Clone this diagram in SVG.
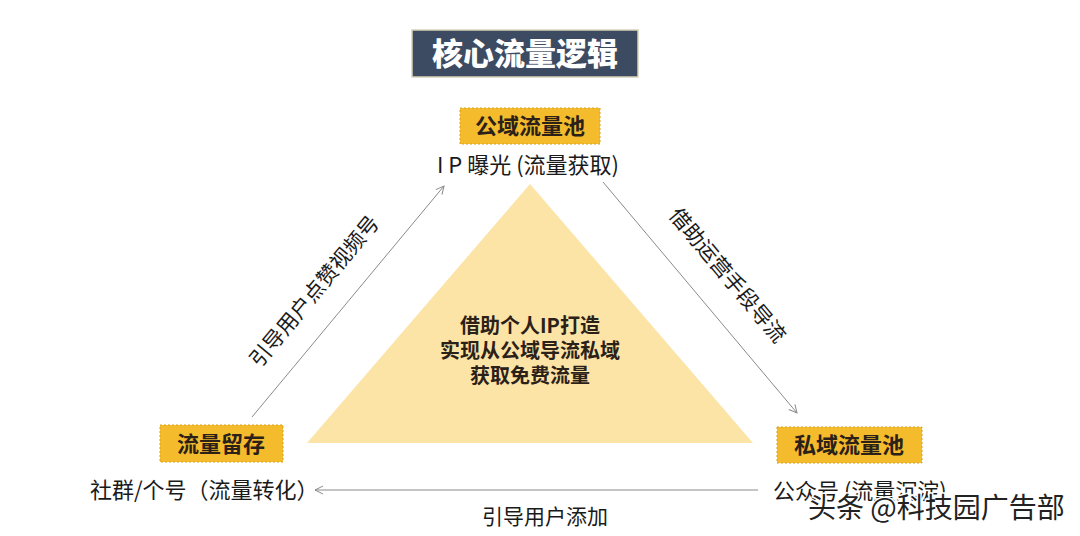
<svg xmlns="http://www.w3.org/2000/svg" width="1080" height="536" viewBox="0 0 1080 536">
<style>
.lbl{font-family:"Noto Sans CJK SC","Noto Sans",sans-serif;font-weight:700;font-size:22px;fill:#2b2118;text-anchor:middle}
.ctr{font-family:"Noto Sans CJK SC","Noto Sans",sans-serif;font-weight:700;font-size:20px;fill:#2b2118;text-anchor:middle}
.box{fill:#f4bb2d;stroke:#d9a01a;stroke-width:1;stroke-dasharray:2 2}
.txt{font-family:"Noto Sans CJK SC","Liberation Sans",sans-serif;font-size:22px;fill:#1a1a1a}
.conn{stroke:#8a8a8a;stroke-width:1;fill:none;marker-end:url(#ah)}
.clbl{font-family:"Noto Sans CJK SC","Liberation Sans",sans-serif;font-size:21px;fill:#1a1a1a;text-anchor:middle}
</style>
<defs>
<marker id="ah" viewBox="0 0 10 10" refX="9" refY="5" markerWidth="10" markerHeight="10" markerUnits="userSpaceOnUse" orient="auto">
<path d="M1,1 L9,5 L1,9" fill="none" stroke="#8a8a8a" stroke-width="1"/>
</marker>
</defs>
<rect width="1080" height="536" fill="#ffffff"/>
<g id="title">
<rect x="412" y="30" width="226" height="47" fill="#3c4a62" stroke="#d8d2b8" stroke-width="1.5"/>
<text x="525" y="65" font-family="Noto Sans CJK SC,sans-serif" font-weight="900" font-size="31" fill="#ffffff" text-anchor="middle">核心流量逻辑</text>
</g>
<g id="triangle">
<polygon points="530,184 307,443 753,443" fill="#fbe4a6"/>
<text class="ctr" x="530" y="333">借助个人IP打造</text>
<text class="ctr" x="530" y="358">实现从公域导流私域</text>
<text class="ctr" x="530" y="383">获取免费流量</text>
</g>
<g id="public-pool">
<rect class="box" x="460" y="108" width="140" height="36"/>
<text class="lbl" x="530" y="134">公域流量池</text>
<text class="txt" x="528" y="173" text-anchor="middle" font-size="23">I P 曝光 (流量获取)</text>
</g>
<g id="retention">
<rect class="box" x="160" y="425" width="123" height="37"/>
<text class="lbl" x="221" y="452">流量留存</text>
<text class="txt" x="90" y="498">社群/个号（流量转化）</text>
</g>
<g id="private-pool">
<rect class="box" x="777" y="427" width="145" height="36"/>
<text class="lbl" x="849" y="453">私域流量池</text>
<text class="txt" x="773" y="499">公众号 (流量沉淀)</text>
</g>
<g id="connectors">
<line class="conn" x1="252" y1="417" x2="444" y2="186"/>
<text class="clbl" transform="translate(320,296) rotate(-50.3)">引导用户点赞视频号</text>
<line class="conn" x1="603" y1="182" x2="797" y2="413"/>
<text class="clbl" transform="translate(722,280) rotate(50)">借助运营手段导流</text>
<line class="conn" x1="758" y1="490" x2="315" y2="490"/>
<text class="clbl" x="545" y="524" font-size="20">引导用户添加</text>
</g>
<g id="watermark">
<text x="808" y="518" font-family="Noto Sans CJK SC,sans-serif" font-size="28" fill="#222222" stroke="#ffffff" stroke-width="3" paint-order="stroke">头条 @科技园广告部</text>
</g>
</svg>
